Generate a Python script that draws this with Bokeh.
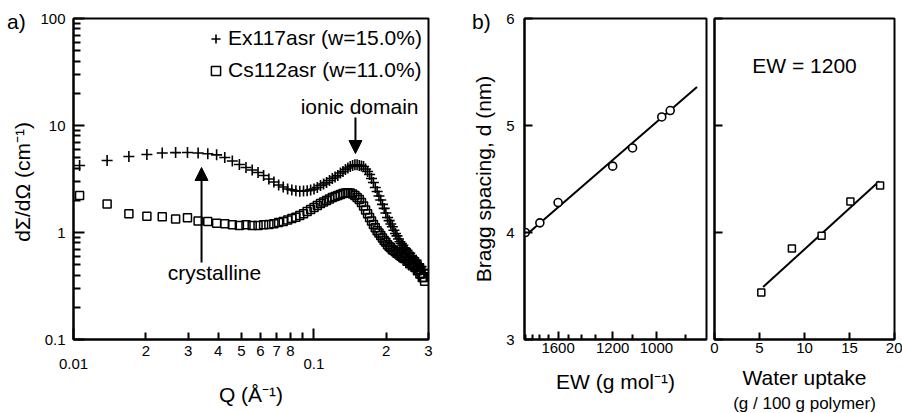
from bokeh.plotting import figure
from bokeh.models import (FixedTicker, LogAxis, Legend, LegendItem, Title, Div, GridBox,
                          Label, Arrow, NormalHead, Range1d)
from bokeh.embed import file_html
from bokeh.resources import INLINE

FONT = "Liberation Sans"

# ---------------- panel a data ----------------
q = [0.0106, 0.0138, 0.0170, 0.0202, 0.0234, 0.0266, 0.0298, 0.0330, 0.0362, 0.0394,
     0.0426, 0.0458, 0.0490, 0.0522, 0.0554, 0.0586, 0.0618, 0.0650, 0.0682, 0.0714,
     0.0746, 0.0778, 0.0810, 0.0842, 0.0874, 0.0906, 0.0938, 0.0970, 0.1002, 0.1034,
     0.1066, 0.1098, 0.1130, 0.1162, 0.1194, 0.1226, 0.1258, 0.1290, 0.1322, 0.1354,
     0.1386, 0.1418, 0.1450, 0.1482, 0.1514, 0.1546, 0.1578, 0.1610, 0.1642, 0.1674,
     0.1706, 0.1738, 0.1770, 0.1802, 0.1834, 0.1866, 0.1898, 0.1930, 0.1962, 0.1994,
     0.2026, 0.2058, 0.2090, 0.2122, 0.2154, 0.2186, 0.2218, 0.2250, 0.2282, 0.2314,
     0.2346, 0.2378, 0.2410, 0.2442, 0.2474, 0.2506, 0.2538, 0.2570, 0.2602, 0.2634,
     0.2666, 0.2698, 0.2730, 0.2762, 0.2794, 0.2826, 0.2858, 0.2890]

ex117 = [4.23, 4.71, 5.13, 5.36, 5.53, 5.58, 5.60, 5.53, 5.44, 5.32,
         5.02, 4.66, 4.32, 4.05, 3.84, 3.64, 3.41, 3.16, 2.96, 2.78,
         2.66, 2.55, 2.50, 2.45, 2.43, 2.44, 2.46, 2.50, 2.55, 2.63,
         2.75, 2.84, 2.93, 3.06, 3.20, 3.30, 3.41, 3.60, 3.72, 3.88,
         4.01, 4.14, 4.23, 4.29, 4.29, 4.23, 4.18, 4.14, 3.92, 3.72,
         3.48, 3.20, 2.93, 2.63, 2.42, 2.19, 2.01, 1.83, 1.68, 1.52,
         1.38, 1.29, 1.20, 1.13, 1.05, 0.98, 0.93, 0.87, 0.82, 0.79,
         0.76, 0.72, 0.70, 0.68, 0.65, 0.64, 0.60, 0.59, 0.58, 0.55,
         0.55, 0.51, 0.51, 0.48, 0.48, 0.45, 0.45, 0.42]

cs112 = [2.22, 1.85, 1.50, 1.42, 1.40, 1.34, 1.37, 1.28, 1.27, 1.22,
         1.21, 1.18, 1.16, 1.18, 1.16, 1.16, 1.18, 1.19, 1.21, 1.24,
         1.27, 1.31, 1.35, 1.39, 1.44, 1.50, 1.57, 1.64, 1.71, 1.79,
         1.87, 1.93, 1.99, 2.06, 2.12, 2.17, 2.22, 2.27, 2.31, 2.34,
         2.35, 2.34, 2.29, 2.22, 2.12, 2.03, 1.91, 1.77, 1.62, 1.50,
         1.38, 1.28, 1.19, 1.11, 1.04, 0.99, 0.94, 0.89, 0.84, 0.81,
         0.77, 0.74, 0.72, 0.69, 0.68, 0.66, 0.64, 0.63, 0.61, 0.60,
         0.58, 0.57, 0.57, 0.54, 0.55, 0.51, 0.52, 0.49, 0.50, 0.47,
         0.48, 0.44, 0.45, 0.41, 0.41, 0.38, 0.38, 0.35]

x_label_ticks = [0.02, 0.03, 0.04, 0.05, 0.06, 0.07, 0.08, 0.09, 0.2, 0.3]
x_label_text = ["2", "3", "4", "5", "6", "7", "8", "", "2", "3"]
x_decades = [0.01, 0.1]
x_decade_text = ["0.01", "0.1"]
y_ticks_a = [0.1, 1, 10, 100]
y_ticks_a_text = ["0.1", "1", "10", "100"]
y_minor_a = [0.2, 0.3, 0.4, 0.5, 0.6, 0.7, 0.8, 0.9,
             2, 3, 4, 5, 6, 7, 8, 9,
             20, 30, 40, 50, 60, 70, 80, 90]

# ---------------- panel b data ----------------
ew = [2000, 1800, 1600, 1200, 1100, 980, 950]
d_ew = [4.00, 4.09, 4.28, 4.62, 4.79, 5.08, 5.14]
ew_fit = [2000, 866]
d_ew_fit = [3.97, 5.36]
ew_major = [1600, 1200, 1000]
ew_minor = [2000, 1900, 1800, 1700, 1500, 1400, 1300, 1100, 900]

water = [5.2, 8.6, 11.9, 15.1, 18.4]
d_water = [3.44, 3.85, 3.97, 4.29, 4.44]
water_fit = [5.4, 18.3]
d_water_fit = [3.49, 4.48]
water_ticks = [0, 5, 10, 15, 20]
d_ticks = [3, 4, 5, 6]


def style_axis(ax, tick_in, minor_in=0, standoff=6, label_standoff=6):
    ax.axis_line_color = "black"
    ax.axis_line_width = 2
    ax.major_tick_in = tick_in
    ax.major_tick_out = 0
    ax.minor_tick_in = minor_in
    ax.minor_tick_out = 0
    ax.major_tick_line_width = 2
    ax.minor_tick_line_width = 2
    ax.major_tick_line_color = "black"
    ax.minor_tick_line_color = "black"
    ax.major_label_text_font = FONT
    ax.major_label_text_font_size = "15px"
    ax.major_label_text_color = "black"
    ax.major_label_standoff = standoff
    ax.axis_label_text_font = FONT
    ax.axis_label_text_font_size = "21px"
    ax.axis_label_text_font_style = "normal"
    ax.axis_label_text_color = "black"
    ax.axis_label_standoff = label_standoff


def base_fig(**kw):
    p = figure(output_backend="svg", toolbar_location=None, **kw)
    p.grid.visible = False
    p.outline_line_color = "black"
    p.outline_line_width = 2
    p.background_fill_color = "white"
    p.border_fill_color = "white"
    return p


def panel_tag(text, left, top):
    return Div(text=text, width=26, height=24, margin=(top, 0, 0, left), align="start",
               styles={"font-family": FONT, "font-size": "21px", "line-height": "21px",
                       "color": "black", "background": "transparent"})


# ================= panel a =================
pa = base_fig(width=469, height=413, frame_width=355, frame_height=321,
              x_axis_type="log", y_axis_type="log",
              x_range=Range1d(0.01, 0.3), y_range=Range1d(0.1, 100),
              min_border_left=73, min_border_right=41,
              min_border_top=17, min_border_bottom=75)

xa1 = pa.below[0]
xa1.ticker = FixedTicker(ticks=x_label_ticks, minor_ticks=x_decades)
xa1.major_label_overrides = dict(zip(x_label_ticks, x_label_text))
style_axis(xa1, 7, 11, standoff=6)

xa2 = LogAxis(ticker=FixedTicker(ticks=x_decades, minor_ticks=[]),
              major_label_overrides=dict(zip(x_decades, x_decade_text)),
              axis_label="Q (Å⁻¹)")
style_axis(xa2, 0, 0, standoff=0, label_standoff=11)
xa2.axis_line_color = None
xa2.major_tick_line_color = None
xa2.minor_tick_line_color = None
pa.add_layout(xa2, "below")

ya = pa.left[0]
ya.ticker = FixedTicker(ticks=y_ticks_a, minor_ticks=y_minor_a)
ya.major_label_overrides = dict(zip(y_ticks_a, y_ticks_a_text))
ya.axis_label = "dΣ/dΩ  (cm⁻¹)"
style_axis(ya, 11, 7, standoff=8, label_standoff=3)

r_ex = pa.scatter(q, ex117, marker="cross", size=11, line_color="black", line_width=1.6)
r_cs = pa.scatter(q, cs112, marker="square", size=8, fill_color=None,
                  line_color="black", line_width=1.5)

legend = Legend(items=[LegendItem(label="Ex117asr (w=15.0%)", renderers=[r_ex]),
                       LegendItem(label="Cs112asr (w=11.0%)", renderers=[r_cs])],
                location=(131, 257), padding=0, margin=0, spacing=8,
                glyph_width=23, glyph_height=23, label_standoff=1,
                label_text_font=FONT, label_text_font_size="21px",
                label_text_color="black",
                border_line_color=None, background_fill_alpha=0)
pa.add_layout(legend)

head = dict(size=13, fill_color="black", line_color="black", line_width=1)
pa.add_layout(Arrow(end=NormalHead(**head), x_start=0.149, y_start=11.9,
                    x_end=0.149, y_end=5.47, line_width=2, line_color="black"))
pa.add_layout(Arrow(end=NormalHead(**head), x_start=0.0341, y_start=0.525,
                    x_end=0.0341, y_end=4.05, line_width=2, line_color="black"))

txt = dict(text_font=FONT, text_font_size="21px", text_color="black",
           text_align="center", text_baseline="middle")
pa.add_layout(Label(x=0.155, y=15.1, text="ionic domain", **txt))
pa.add_layout(Label(x=0.0386, y=0.423, text="crystalline", **txt))

# ================= panel b (left) =================
pb1 = base_fig(width=239, height=413, frame_width=182, frame_height=321,
               x_range=Range1d(0.000497, 0.001191), y_range=Range1d(3, 6),
               min_border_left=55, min_border_right=2,
               min_border_top=18, min_border_bottom=74)
xb1 = pb1.below[0]
xb1.ticker = FixedTicker(ticks=[1.0 / e for e in ew_major],
                         minor_ticks=[1.0 / e for e in ew_minor])
xb1.major_label_overrides = {1.0 / e: str(e) for e in ew_major}
xb1.axis_label = "EW (g mol⁻¹)"
style_axis(xb1, 8, 5, standoff=3, label_standoff=14)
yb1 = pb1.left[0]
yb1.ticker = FixedTicker(ticks=d_ticks, minor_ticks=[])
yb1.axis_label = "Bragg spacing, d (nm)"
style_axis(yb1, 8, 0, standoff=10, label_standoff=8)

pb1.line([1.0 / e for e in ew_fit], d_ew_fit, line_color="black", line_width=2)
pb1.scatter([1.0 / e for e in ew], d_ew, marker="circle", size=8, fill_color="white",
            line_color="black", line_width=1.6)

# ================= panel b (right) =================
pb2 = base_fig(width=194, height=413, frame_width=180, frame_height=321,
               x_range=Range1d(0, 20), y_range=Range1d(3, 6),
               min_border_left=6, min_border_right=8,
               min_border_top=18, min_border_bottom=74)
xb2 = pb2.below[0]
xb2.ticker = FixedTicker(ticks=water_ticks, minor_ticks=[])
xb2.axis_label = "Water uptake"
style_axis(xb2, 7, 0, standoff=3, label_standoff=10)
yb2 = pb2.left[0]
yb2.ticker = FixedTicker(ticks=d_ticks, minor_ticks=[])
yb2.major_label_overrides = {t: "" for t in d_ticks}
style_axis(yb2, 8, 0, standoff=0, label_standoff=0)
yb2.major_label_text_font_size = "0px"

pb2.line(water_fit, d_water_fit, line_color="black", line_width=2)
pb2.scatter(water, d_water, marker="square", size=7, fill_color="white",
            line_color="black", line_width=1.5)
pb2.add_layout(Label(x=10, y=5.56, text="EW = 1200", **txt))
pb2.add_layout(Title(text="(g / 100 g polymer)", align="center", standoff=0,
                     text_font=FONT, text_font_size="17px", text_font_style="normal",
                     text_color="black"), "below")

layout = GridBox(children=[(pa, 0, 0), (pb1, 0, 1), (pb2, 0, 2),
                           (panel_tag("a)", 7, 11), 0, 0),
                           (panel_tag("b)", 3, 11), 0, 1)],
                 spacing=0)
open("out.html", "w").write(file_html(layout, INLINE))
